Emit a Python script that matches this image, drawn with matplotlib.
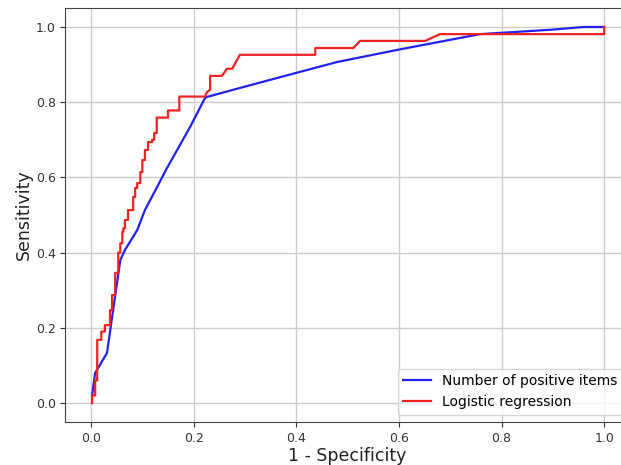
import matplotlib
matplotlib.use("Agg")
import matplotlib.pyplot as plt

# Number of positive items (blue)
blue_fpr = [0.002, 0.008, 0.031, 0.057, 0.066, 0.072, 0.09, 0.105, 0.125, 0.148, 0.16, 0.193, 0.222, 0.226, 0.296, 0.4, 0.48, 0.6, 0.758, 0.9, 0.959, 1.0]
blue_tpr = [0.02, 0.08, 0.133, 0.38, 0.407, 0.42, 0.46, 0.513, 0.565, 0.625, 0.654, 0.734, 0.811, 0.814, 0.84, 0.878, 0.907, 0.94, 0.981, 0.993, 1.0, 1.0]

# Logistic regression (red), step curve
red_fpr = [0.002, 0.002, 0.008, 0.008, 0.012, 0.012, 0.02, 0.02, 0.027, 0.027, 0.037, 0.037, 0.041, 0.041, 0.047, 0.047, 0.053, 0.053,
           0.057, 0.057, 0.061, 0.061, 0.063, 0.063, 0.066, 0.066, 0.072, 0.072, 0.082, 0.082, 0.086, 0.086, 0.09, 0.09, 0.096, 0.096,
           0.10, 0.10, 0.105, 0.105, 0.111, 0.111, 0.119, 0.119, 0.123, 0.123, 0.128, 0.128, 0.15, 0.15, 0.172, 0.172, 0.222, 0.226,
           0.232, 0.232, 0.255, 0.265, 0.275, 0.29, 0.437, 0.437, 0.511, 0.524, 0.651, 0.68, 1.0, 1.0]
red_tpr = [0.0, 0.02, 0.02, 0.06, 0.06, 0.168, 0.168, 0.19, 0.19, 0.207, 0.207, 0.247, 0.247, 0.287, 0.287, 0.346, 0.346, 0.40,
           0.40, 0.425, 0.425, 0.455, 0.455, 0.465, 0.465, 0.487, 0.487, 0.513, 0.513, 0.548, 0.548, 0.572, 0.572, 0.585, 0.585, 0.614,
           0.614, 0.646, 0.646, 0.673, 0.673, 0.694, 0.694, 0.70, 0.70, 0.718, 0.718, 0.759, 0.759, 0.778, 0.778, 0.815, 0.815, 0.827,
           0.833, 0.870, 0.870, 0.889, 0.889, 0.926, 0.926, 0.944, 0.944, 0.963, 0.963, 0.981, 0.981, 1.0]

labels = ["Number of positive items", "Logistic regression"]
xticks = [0.0, 0.2, 0.4, 0.6, 0.8, 1.0]
yticks = [0.0, 0.2, 0.4, 0.6, 0.8, 1.0]

fig = plt.figure(figsize=(6.21, 4.65), dpi=100)
ax = fig.add_axes([0.1053, 0.0929, 0.909, 0.8895])
ax.plot(blue_fpr, blue_tpr, color="#2222ee", lw=1.6, label=labels[0])
ax.plot(red_fpr, red_tpr, color="#ee2222", lw=1.6, label=labels[1])
ax.set_xlim(-0.05, 1.05)
ax.set_ylim(-0.05, 1.05)
ax.set_xticks(xticks)
ax.set_yticks(yticks)
ax.tick_params(labelsize=9, colors="#333333")
for s in ax.spines.values():
    s.set_color("#444444")
ax.grid(True, color="#cccccc", lw=1.0)
ax.set_xlabel("1 - Specificity", fontsize=12.5, color="#222222", labelpad=2)
ax.set_ylabel("Sensitivity", fontsize=12.5, color="#222222", labelpad=2)
ax.legend(loc="lower right", fontsize=10)
fig.savefig("out.png", dpi=100)
